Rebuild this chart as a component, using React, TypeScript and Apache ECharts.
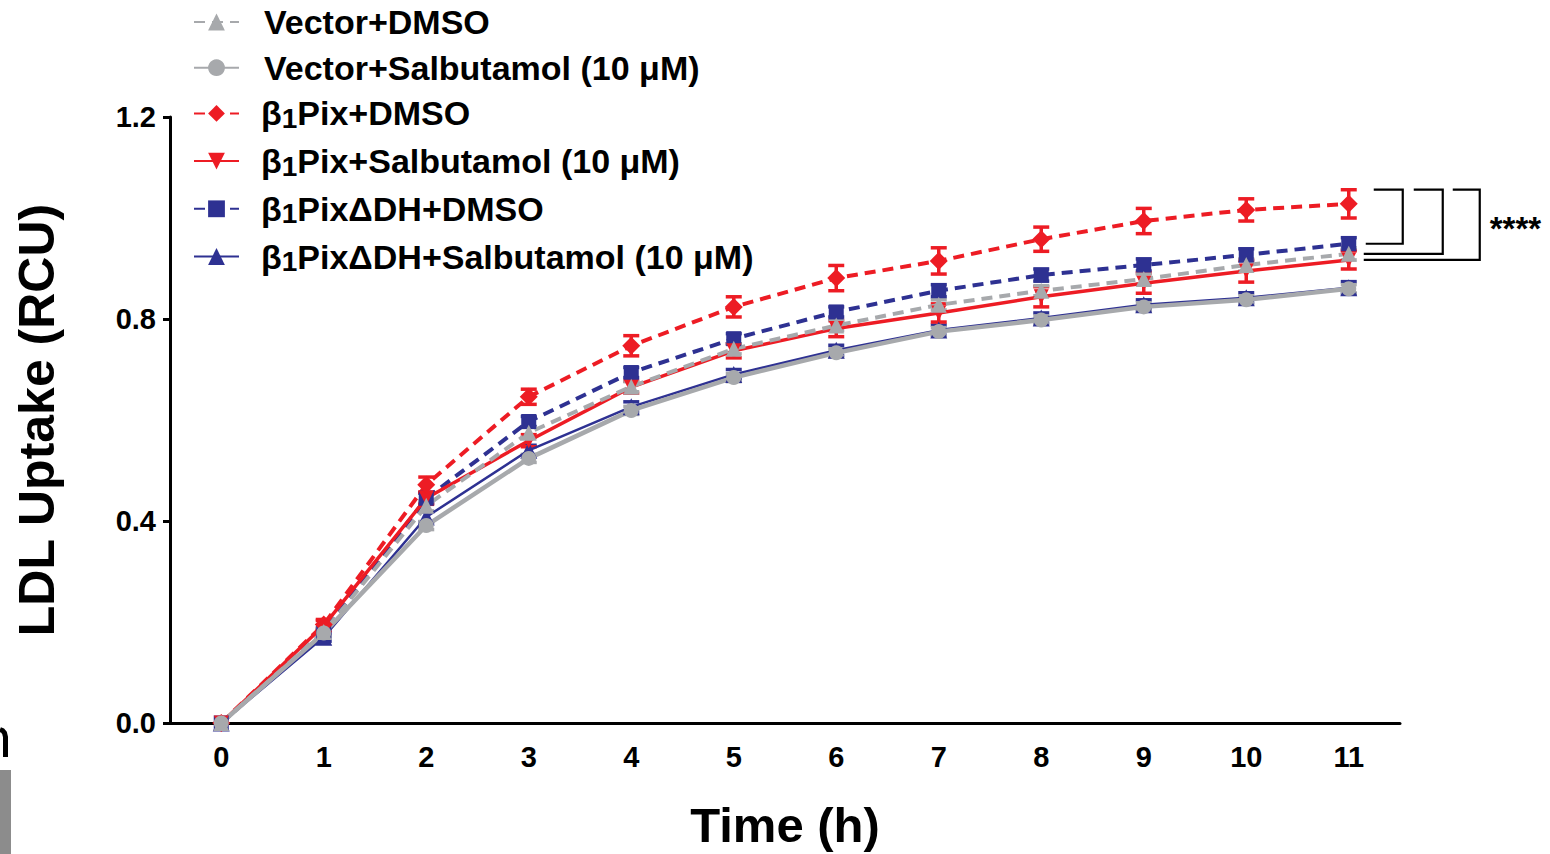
import React, { useEffect, useRef } from "react";
import * as echarts from "echarts";

// ---- data ----
const timeLabels = ["0", "1", "2", "3", "4", "5", "6", "7", "8", "9", "10", "11"];

const vectorDmso = [0, 0.18, 0.43, 0.575, 0.666, 0.741, 0.787, 0.828, 0.856, 0.879, 0.907, 0.929];
const vectorDmsoErr = [0, 0.008, 0.01, 0.01, 0.01, 0.01, 0.01, 0.01, 0.01, 0.01, 0.012, 0.012];

const vectorSalb = [0, 0.178, 0.391, 0.524, 0.619, 0.684, 0.733, 0.775, 0.798, 0.824, 0.838, 0.86];
const vectorSalbErr = [0, 0.008, 0.008, 0.008, 0.008, 0.008, 0.008, 0.008, 0.008, 0.008, 0.008, 0.008];

const pixDmso = [0, 0.195, 0.472, 0.646, 0.747, 0.824, 0.881, 0.915, 0.958, 0.994, 1.016, 1.028];
const pixDmsoErr = [0, 0.01, 0.015, 0.015, 0.02, 0.02, 0.025, 0.026, 0.024, 0.025, 0.022, 0.028];

const pixSalb = [0, 0.193, 0.445, 0.559, 0.665, 0.737, 0.781, 0.812, 0.844, 0.871, 0.895, 0.917];
const pixSalbErr = [0, 0.01, 0.012, 0.012, 0.012, 0.014, 0.016, 0.018, 0.02, 0.02, 0.022, 0.018];

const dhDmso = [0, 0.18, 0.445, 0.597, 0.694, 0.761, 0.814, 0.856, 0.887, 0.907, 0.927, 0.949];
const dhDmsoErr = [0, 0.008, 0.01, 0.01, 0.01, 0.01, 0.01, 0.012, 0.012, 0.012, 0.012, 0.012];

const dhSalb = [0, 0.17, 0.408, 0.54, 0.626, 0.69, 0.738, 0.778, 0.802, 0.828, 0.842, 0.862];
const dhSalbErr = [0, 0.008, 0.01, 0.01, 0.01, 0.01, 0.01, 0.01, 0.01, 0.01, 0.01, 0.012];

const legendNames = [
  "Vector+DMSO",
  "Vector+Salbutamol (10 μM)",
  "β1Pix+DMSO",
  "β1Pix+Salbutamol (10 μM)",
  "β1PixΔDH+DMSO",
  "β1PixΔDH+Salbutamol (10 μM)",
];

const yTicks = [0, 0.4, 0.8, 1.2];
const significance = "****";

// ---- styles ----
const RED = "#ED1C24";
const BLUE = "#2E3192";
const GRAY = "#A7A9AC";
const FONT = "Liberation Sans, Arial, Helvetica, sans-serif";
const DASH = [11, 7];

type Group = {
  name: string;
  values: number[];
  errors: number[];
  color: string;
  dashed: boolean;
  symbol: string;
  symbolRotate?: number;
  symbolSize: number;
  lineWidth: number;
};

// drawing order (back to front)
const groups: Group[] = [
  { name: legendNames[5], values: dhSalb, errors: dhSalbErr, color: BLUE, dashed: false, symbol: "triangle", symbolSize: 17, lineWidth: 2.5 },
  { name: legendNames[4], values: dhDmso, errors: dhDmsoErr, color: BLUE, dashed: true, symbol: "rect", symbolSize: 15, lineWidth: 4 },
  { name: legendNames[3], values: pixSalb, errors: pixSalbErr, color: RED, dashed: false, symbol: "triangle", symbolRotate: 180, symbolSize: 15, lineWidth: 3.5 },
  { name: legendNames[2], values: pixDmso, errors: pixDmsoErr, color: RED, dashed: true, symbol: "diamond", symbolSize: 18, lineWidth: 4 },
  { name: legendNames[1], values: vectorSalb, errors: vectorSalbErr, color: GRAY, dashed: false, symbol: "circle", symbolSize: 15, lineWidth: 4.5 },
  { name: legendNames[0], values: vectorDmso, errors: vectorDmsoErr, color: GRAY, dashed: true, symbol: "triangle", symbolSize: 16, lineWidth: 4 },
];

export default function App() {
  const ref = useRef<HTMLDivElement>(null);

  useEffect(() => {
    if (!ref.current) return;
    const chart = echarts.init(ref.current, null, { renderer: "svg" });

    const series: any[] = [];
    groups.forEach((g) => {
      series.push({
        type: "custom",
        name: g.name + " SEM",
        silent: true,
        data: g.values.map((v, i) => [i, v, g.errors[i]]),
        encode: { x: 0, y: 1 },
        renderItem: (_p: any, api: any) => {
          const x = api.value(0);
          const y = api.value(1);
          const e = api.value(2);
          if (!e) return null;
          const top = api.coord([x, y + e]);
          const bot = api.coord([x, y - e]);
          const hw = 8;
          const st = { stroke: g.color, lineWidth: 3.5 };
          return {
            type: "group",
            children: [
              { type: "line", shape: { x1: top[0], y1: top[1], x2: bot[0], y2: bot[1] }, style: st },
              { type: "line", shape: { x1: top[0] - hw, y1: top[1], x2: top[0] + hw, y2: top[1] }, style: st },
              { type: "line", shape: { x1: bot[0] - hw, y1: bot[1], x2: bot[0] + hw, y2: bot[1] }, style: st },
            ],
          };
        },
      });
      series.push({
        type: "line",
        name: g.name,
        data: g.values,
        symbol: g.symbol,
        symbolRotate: g.symbolRotate || 0,
        symbolSize: g.symbolSize,
        showAllSymbol: true,
        lineStyle: { color: g.color, width: g.lineWidth, type: g.dashed ? DASH : "solid" },
        itemStyle: { color: g.color, borderWidth: 0 },
        emphasis: { disabled: true },
      });
    });

    const legendFormatter = (name: string) => {
      if (name.startsWith("β1")) {
        return `{sp| }{t|β}{sub|1}{t|${name.slice(2)}}`;
      }
      return `{sp2| }{t|${name}}`;
    };

    chart.setOption({
      animation: false,
      textStyle: { fontFamily: FONT },
      grid: { left: 170, right: 150, top: 117, bottom: 129, containLabel: false },
      legend: {
        data: legendNames,
        orient: "vertical",
        left: 193,
        top: 5,
        padding: 0,
        itemWidth: 45,
        itemHeight: 21,
        itemGap: 11.7,
        selectedMode: false,
        formatter: legendFormatter,
        textStyle: {
          rich: {
            sp: { width: 17, fontSize: 34, lineHeight: 38 },
            sp2: { width: 20, fontSize: 34, lineHeight: 38 },
            t: { fontSize: 34, fontWeight: "bold", color: "#000", lineHeight: 38, fontFamily: FONT },
            sub: { fontSize: 28, fontWeight: "bold", color: "#000", lineHeight: 24, verticalAlign: "bottom", fontFamily: FONT },
          },
        },
      },
      xAxis: {
        type: "category",
        data: timeLabels,
        boundaryGap: true,
        name: "Time (h)",
        nameLocation: "middle",
        nameGap: 77,
        nameTextStyle: { fontSize: 49, fontWeight: "bold", color: "#000", fontFamily: FONT },
        axisLine: { lineStyle: { color: "#000", width: 3 } },
        axisTick: { alignWithLabel: true, length: 10, lineStyle: { color: "#000", width: 3 } },
        axisLabel: { fontSize: 29, fontWeight: "bold", color: "#000", margin: 19, fontFamily: FONT },
        splitLine: { show: false },
      },
      yAxis: {
        type: "value",
        min: yTicks[0],
        max: yTicks[yTicks.length - 1],
        interval: 0.4,
        name: "LDL Uptake (RCU)",
        nameLocation: "middle",
        nameGap: 108,
        nameTextStyle: { fontSize: 50, fontWeight: "bold", color: "#000", fontFamily: FONT },
        axisLine: { show: true, lineStyle: { color: "#000", width: 3 } },
        axisTick: { show: true, length: 7, lineStyle: { color: "#000", width: 3 } },
        axisLabel: {
          fontSize: 29,
          fontWeight: "bold",
          color: "#000",
          margin: 14,
          fontFamily: FONT,
          formatter: (v: number) => v.toFixed(1),
        },
        splitLine: { show: false },
      },
      series,
    });

    // significance brackets anchored to last time point
    const last = timeLabels.length - 1;
    const px = (v: number) => chart.convertToPixel({ xAxisIndex: 0, yAxisIndex: 0 }, [last, v]) as number[];
    const topY = px(pixDmso[last] + pixDmsoErr[last])[1];
    const x11 = px(0)[0];
    const ends = [dhDmso[last], vectorDmso[last], pixSalb[last]].map((v) => px(v)[1]);
    const bracketDefs = [
      { x0Top: x11 + 25, xr: x11 + 54, x0Bot: x11 + 17, yb: ends[0] },
      { x0Top: x11 + 65, xr: x11 + 94, x0Bot: x11 + 15, yb: ends[1] },
      { x0Top: x11 + 104, xr: x11 + 131, x0Bot: x11 + 15, yb: ends[2] },
    ];
    const lineStyle = { stroke: "#000", lineWidth: 2.2, fill: null };
    const graphics: any[] = bracketDefs.map((b) => ({
      type: "polyline",
      shape: { points: [[b.x0Top, topY], [b.xr, topY], [b.xr, b.yb], [b.x0Bot, b.yb]] },
      style: lineStyle,
      silent: true,
    }));
    graphics.push({
      type: "text",
      x: x11 + 141,
      y: (topY + ends[2]) / 2 + 4,
      style: { text: significance, font: `bold 33px ${FONT}`, fill: "#000", verticalAlign: "middle" },
      silent: true,
    });
    // cropped fragments of a neighbouring panel at the left edge
    graphics.push({
      type: "rect",
      shape: { x: 0, y: 770, width: 11, height: 84 },
      style: { fill: "#8C8C8C" },
      silent: true,
    });
    graphics.push({
      type: "polyline",
      shape: { points: [[0, 729.5], [2.5, 730.5], [4.5, 733], [5.5, 737], [5.5, 757]] },
      style: { stroke: "#000", lineWidth: 5, fill: null },
      silent: true,
    });
    chart.setOption({ graphic: graphics });

    return () => chart.dispose();
  }, []);

  return (
    <div
      ref={ref}
      style={{ position: "fixed", left: 0, top: 0, width: 1550, height: 854, background: "#fff" }}
    />
  );
}
